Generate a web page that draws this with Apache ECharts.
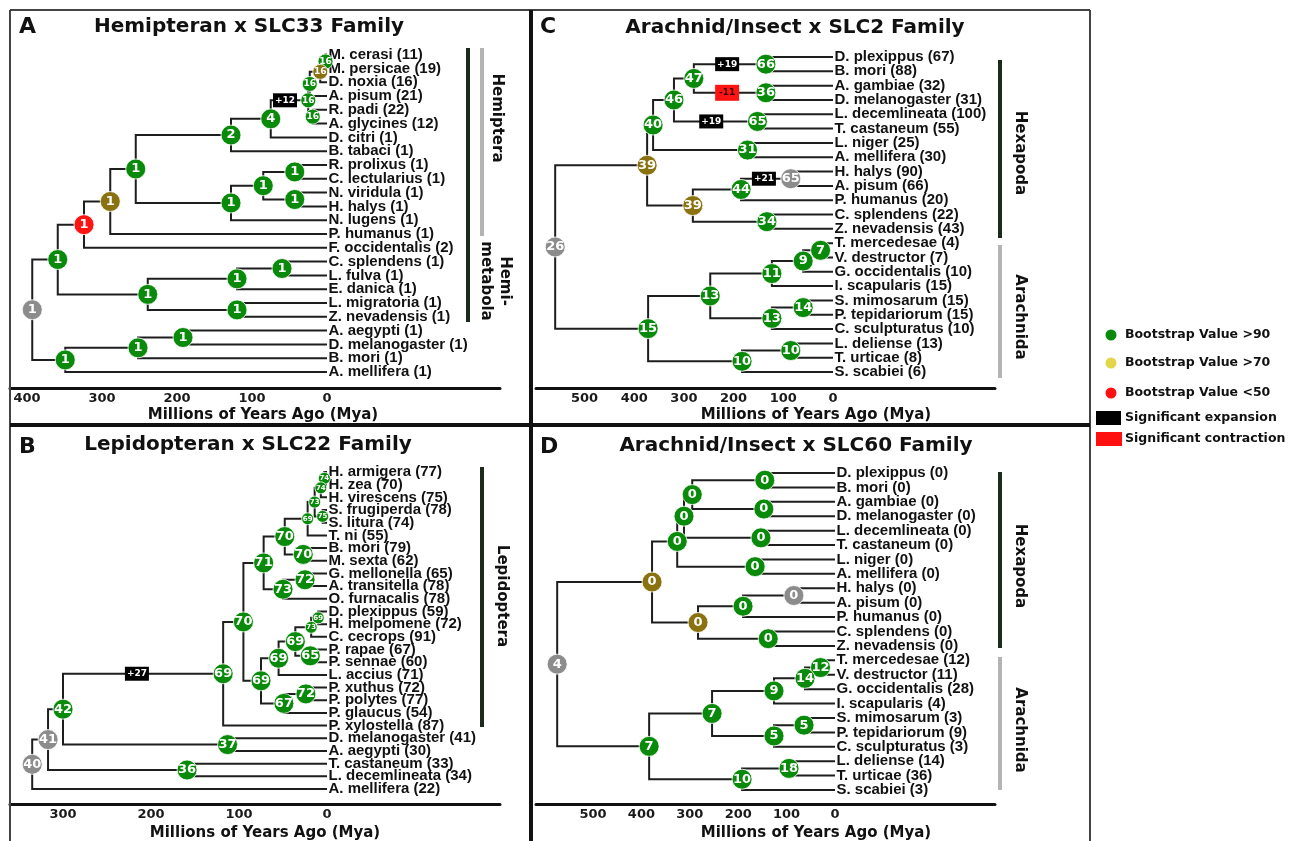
<!DOCTYPE html>
<html>
<head>
<meta charset="utf-8">
<title>Gene family expansion across insect trees</title>
<script src="https://cdn.jsdelivr.net/npm/echarts@6/dist/echarts.min.js"></script>
<style>
html, body { margin: 0; padding: 0; background: #fff; }
#chart { width: 1295px; height: 841px; }
</style>
</head>
<body>
<div id="chart"></div>
<script>
// ---------- data ----------
// node: [id, age (Mya), family size at node, bootstrap class, left child, right child]
// child = leaf index (number) or node id (string)
// bootstrap class: g >90, o >70, r <50, x not shown

const leavesA = ['M. cerasi', 'M. persicae', 'D. noxia', 'A. pisum', 'R. padi', 'A. glycines',
    'D. citri', 'B. tabaci', 'R. prolixus', 'C. lectularius', 'N. viridula', 'H. halys', 'N. lugens',
    'P. humanus', 'F. occidentalis', 'C. splendens', 'L. fulva', 'E. danica', 'L. migratoria',
    'Z. nevadensis', 'A. aegypti', 'D. melanogaster', 'B. mori', 'A. mellifera']
const countsA = [11, 19, 16, 21, 22, 12, 1, 1, 1, 1, 1, 1, 1, 1, 2, 1, 1, 1, 1, 1, 1, 1, 1, 1]
const nodesA = [
    ['a1', 2, 16, 'g', 0, 1],
    ['a2', 9, 16, 'o', 'a1', 2],
    ['a3', 23, 16, 'g', 'a2', 3],
    ['a4', 19, 16, 'g', 4, 5],
    ['a5', 25, 16, 'g', 'a3', 'a4'],
    ['a6', 75, 4, 'g', 'a5', 6],
    ['a7', 128, 2, 'g', 'a6', 7],
    ['a8', 43, 1, 'g', 8, 9],
    ['a9', 43, 1, 'g', 10, 11],
    ['a10', 85, 1, 'g', 'a8', 'a9'],
    ['a11', 128, 1, 'g', 'a10', 12],
    ['a12', 255, 1, 'g', 'a7', 'a11'],
    ['a13', 289, 1, 'o', 'a12', 13],
    ['a14', 324, 1, 'r', 'a13', 14],
    ['a15', 60, 1, 'g', 15, 16],
    ['a16', 120, 1, 'g', 'a15', 17],
    ['a17', 120, 1, 'g', 18, 19],
    ['a18', 239, 1, 'g', 'a16', 'a17'],
    ['a19', 359, 1, 'g', 'a14', 'a18'],
    ['a20', 192, 1, 'g', 20, 21],
    ['a21', 252, 1, 'g', 'a20', 22],
    ['a22', 349, 1, 'g', 'a21', 23],
    ['a23', 393, 1, 'x', 'a19', 'a22']
]
// [node the branch leads to, age of the box, change, e = expansion / c = contraction]
const boxesA = [['a5', 56, '+12', 'e']]

const leavesB = ['H. armigera', 'H. zea', 'H. virescens', 'S. frugiperda', 'S. litura', 'T. ni',
    'B. mori', 'M. sexta', 'G. mellonella', 'A. transitella', 'O. furnacalis', 'D. plexippus',
    'H. melpomene', 'C. cecrops', 'P. rapae', 'P. sennae', 'L. accius', 'P. xuthus', 'P. polytes',
    'P. glaucus', 'P. xylostella', 'D. melanogaster', 'A. aegypti', 'T. castaneum',
    'L. decemlineata', 'A. mellifera']
const countsB = [77, 70, 75, 78, 74, 55, 79, 62, 65, 78, 78, 59, 72, 91, 67, 60, 71, 72, 77, 54, 87, 41, 30, 33, 34, 22]
const nodesB = [
    ['b1', 3, 74, 'g', 0, 1],
    ['b2', 7, 74, 'g', 'b1', 2],
    ['b3', 5, 75, 'g', 3, 4],
    ['b4', 14, 73, 'g', 'b2', 'b3'],
    ['b5', 22, 69, 'g', 'b4', 5],
    ['b6', 27, 70, 'g', 6, 7],
    ['b7', 48, 70, 'g', 'b5', 'b6'],
    ['b8', 25, 72, 'g', 8, 9],
    ['b9', 50, 73, 'g', 'b8', 10],
    ['b10', 72, 71, 'g', 'b7', 'b9'],
    ['b11', 10, 69, 'g', 11, 12],
    ['b12', 18, 73, 'g', 'b11', 13],
    ['b13', 19, 65, 'g', 14, 15],
    ['b14', 36, 69, 'g', 'b12', 'b13'],
    ['b15', 55, 69, 'g', 'b14', 16],
    ['b16', 24, 72, 'g', 17, 18],
    ['b17', 49, 67, 'g', 'b16', 19],
    ['b18', 75, 69, 'g', 'b15', 'b17'],
    ['b19', 95, 70, 'g', 'b10', 'b18'],
    ['b20', 118, 69, 'g', 'b19', 20],
    ['b21', 113, 37, 'g', 21, 22],
    ['b22', 300, 42, 'g', 'b20', 'b21'],
    ['b23', 159, 36, 'g', 23, 24],
    ['b24', 317, 41, 'x', 'b22', 'b23'],
    ['b25', 335, 40, 'x', 'b24', 25]
]
const boxesB = [['b20', 216, '+27', 'e']]

const leavesCD = ['D. plexippus', 'B. mori', 'A. gambiae', 'D. melanogaster', 'L. decemlineata',
    'T. castaneum', 'L. niger', 'A. mellifera', 'H. halys', 'A. pisum', 'P. humanus', 'C. splendens',
    'Z. nevadensis', 'T. mercedesae', 'V. destructor', 'G. occidentalis', 'I. scapularis',
    'S. mimosarum', 'P. tepidariorum', 'C. sculpturatus', 'L. deliense', 'T. urticae', 'S. scabiei']
const countsC = [67, 88, 32, 31, 100, 55, 25, 30, 90, 66, 20, 22, 43, 4, 7, 10, 15, 15, 15, 10, 13, 8, 6]
const nodesC = [
    ['c1', 135, 66, 'g', 0, 1],
    ['c2', 135, 36, 'g', 2, 3],
    ['c3', 280, 47, 'g', 'c1', 'c2'],
    ['c4', 152, 65, 'g', 4, 5],
    ['c5', 320, 46, 'g', 'c3', 'c4'],
    ['c6', 172, 31, 'g', 6, 7],
    ['c7', 362, 40, 'g', 'c5', 'c6'],
    ['c8', 85, 65, 'x', 8, 9],
    ['c9', 185, 44, 'g', 'c8', 10],
    ['c10', 133, 34, 'g', 11, 12],
    ['c11', 282, 39, 'o', 'c9', 'c10'],
    ['c12', 374, 39, 'o', 'c7', 'c11'],
    ['c13', 25, 7, 'g', 13, 14],
    ['c14', 60, 9, 'g', 'c13', 15],
    ['c15', 123, 11, 'g', 'c14', 16],
    ['c16', 60, 14, 'g', 17, 18],
    ['c17', 123, 13, 'g', 'c16', 19],
    ['c18', 247, 13, 'g', 'c15', 'c17'],
    ['c19', 85, 10, 'g', 20, 21],
    ['c20', 183, 10, 'g', 'c19', 22],
    ['c21', 372, 15, 'g', 'c18', 'c20'],
    ['c22', 559, 26, 'x', 'c12', 'c21']
]
const boxesC = [['c1', 213, '+19', 'e'], ['c2', 213, '-11', 'c'], ['c4', 245, '+19', 'e'], ['c8', 139, '+21', 'e']]

const countsD = [0, 0, 0, 0, 0, 0, 0, 0, 0, 0, 0, 0, 0, 12, 11, 28, 4, 3, 9, 3, 14, 36, 3]
const nodesD = [
    ['d1', 145, 0, 'g', 0, 1],
    ['d2', 147, 0, 'g', 2, 3],
    ['d3', 295, 0, 'g', 'd1', 'd2'],
    ['d4', 153, 0, 'g', 4, 5],
    ['d5', 312, 0, 'g', 'd3', 'd4'],
    ['d6', 165, 0, 'g', 6, 7],
    ['d7', 326, 0, 'g', 'd5', 'd6'],
    ['d8', 85, 0, 'x', 8, 9],
    ['d9', 190, 0, 'g', 'd8', 10],
    ['d10', 138, 0, 'g', 11, 12],
    ['d11', 283, 0, 'o', 'd9', 'd10'],
    ['d12', 378, 0, 'o', 'd7', 'd11'],
    ['d13', 30, 12, 'g', 13, 14],
    ['d14', 62, 14, 'g', 'd13', 15],
    ['d15', 126, 9, 'g', 'd14', 16],
    ['d16', 64, 5, 'g', 17, 18],
    ['d17', 126, 5, 'g', 'd16', 19],
    ['d18', 254, 7, 'g', 'd15', 'd17'],
    ['d19', 95, 18, 'g', 20, 21],
    ['d20', 192, 10, 'g', 'd19', 22],
    ['d21', 384, 7, 'g', 'd18', 'd20'],
    ['d22', 574, 4, 'x', 'd12', 'd21']
]
const boxesD = []

const ticksA = [400, 300, 200, 100, 0]
const ticksB = [300, 200, 100, 0]
const ticksCD = [500, 400, 300, 200, 100, 0]

// ---------- layout / style ----------
const nodeColors = { g: '#0a8a0a', o: '#8a7210', r: '#ff1414', x: '#8c8c8c' }
const boxColors = { e: '#000000', c: '#ff1414' }
const boldSans = '"DejaVu Sans", sans-serif'

const panels = [
    { leaves: leavesA, counts: countsA, nodes: nodesA, boxes: boxesA, ticks: ticksA,
        small: ['a1', 'a2', 'a3', 'a4', 'a5'], smallSize: 15,
        left: 10, right: 500, zeroX: 327, pxPerMy: 0.75, top: 40, axisY: 388, rowY: 54.6, rowStep: 13.8 },
    { leaves: leavesB, counts: countsB, nodes: nodesB, boxes: boxesB, ticks: ticksB,
        small: ['b1', 'b2', 'b3', 'b4', 'b5', 'b11', 'b12'], smallSize: 12,
        left: 10, right: 500, zeroX: 327, pxPerMy: 0.88, top: 458, axisY: 804, rowY: 472, rowStep: 12.68 },
    { leaves: leavesCD, counts: countsC, nodes: nodesC, boxes: boxesC, ticks: ticksCD,
        small: [], smallSize: 12,
        left: 536, right: 995, zeroX: 833, pxPerMy: 0.497, top: 40, axisY: 388, rowY: 57, rowStep: 14.32 },
    { leaves: leavesCD, counts: countsD, nodes: nodesD, boxes: boxesD, ticks: ticksCD,
        small: [], smallSize: 12,
        left: 536, right: 995, zeroX: 835, pxPerMy: 0.484, top: 458, axisY: 804, rowY: 473, rowStep: 14.41 }
]

let grids = [], xAxes = [], yAxes = [], series = []

panels.forEach(function(p, idx) {
    let byId = {}
    p.nodes.forEach(n => { byId[n[0]] = n })
    let yOf = function(ref) {
        if (typeof ref === 'number') return ref
        let n = byId[ref]
        return (yOf(n[4]) + yOf(n[5])) / 2
    }
    let ageOf = ref => typeof ref === 'number' ? 0 : byId[ref][1]

    grids.push({
        left: p.left, top: p.top,
        width: p.right - p.left, height: p.axisY - p.top
    })
    xAxes.push({
        gridIndex: idx,
        type: 'value',
        inverse: true,
        min: (p.zeroX - p.right) / p.pxPerMy,
        max: (p.zeroX - p.left) / p.pxPerMy,
        axisLine: { show: true, onZero: false, lineStyle: { color: '#111', width: 3 } },
        axisTick: { show: false },
        splitLine: { show: false },
        axisLabel: {
            customValues: p.ticks,
            formatter: v => String(v),
            color: '#1a1a1a',
            fontFamily: boldSans,
            fontWeight: 'bold',
            fontSize: 13,
            margin: 4
        }
    })
    yAxes.push({
        gridIndex: idx,
        type: 'value',
        inverse: true,
        show: false,
        min: (p.top - p.rowY) / p.rowStep,
        max: (p.axisY - p.rowY) / p.rowStep
    })

    // branches: vertical at the parent age, then horizontal to the child
    let branches = []
    p.nodes.forEach(function(n) {
        let ny = yOf(n[0])
        ;[n[4], n[5]].forEach(function(c) {
            let cy = yOf(c)
            branches.push({ coords: [[n[1], ny], [n[1], cy], [ageOf(c), cy]] })
        })
    })
    series.push({
        type: 'lines',
        coordinateSystem: 'cartesian2d',
        xAxisIndex: idx,
        yAxisIndex: idx,
        polyline: true,
        silent: true,
        z: 2,
        lineStyle: { color: '#1e1e1e', width: 2, opacity: 1 },
        data: branches
    })

    // leaf names
    series.push({
        type: 'scatter',
        xAxisIndex: idx,
        yAxisIndex: idx,
        silent: true,
        z: 3,
        symbolSize: 1,
        itemStyle: { color: 'rgba(0,0,0,0)', opacity: 1 },
        label: {
            show: true,
            position: 'right',
            distance: 1,
            formatter: '{b}',
            color: '#111',
            opacity: 1,
            fontFamily: '"Liberation Sans", Arial, sans-serif',
            fontWeight: 'bold',
            fontSize: 15
        },
        data: p.leaves.map((name, i) => ({ name: name + ' (' + p.counts[i] + ')', value: [0, i] }))
    })

    // expansion / contraction boxes
    series.push({
        type: 'scatter',
        xAxisIndex: idx,
        yAxisIndex: idx,
        silent: true,
        z: 4,
        symbol: 'rect',
        data: p.boxes.map(b => ({
            value: [b[1], yOf(b[0]), b[2]],
            symbolSize: b[3] === 'c' ? [24, 16] : [24, 14],
            itemStyle: { color: boxColors[b[3]], opacity: 1 },
            label: { color: b[3] === 'c' ? '#3a0000' : '#fff' }
        })),
        itemStyle: { opacity: 1 },
        label: {
            show: true,
            position: 'inside',
            formatter: v => v.value[2],
            fontFamily: boldSans,
            fontWeight: 'bold',
            fontSize: 9
        }
    })

    // nodes
    series.push({
        type: 'scatter',
        xAxisIndex: idx,
        yAxisIndex: idx,
        silent: true,
        z: 5,
        data: p.nodes.map(function(n) {
            let small = p.small.indexOf(n[0]) >= 0
            return {
                value: [n[1], yOf(n[0]), n[2]],
                symbolSize: small ? p.smallSize : 20,
                itemStyle: { color: nodeColors[n[3]], opacity: 1 },
                label: { fontSize: small ? (p.smallSize > 13 ? 9 : 7) : 13 }
            }
        }),
        itemStyle: { borderColor: '#ffffff', borderWidth: 0.8, opacity: 1 },
        label: {
            show: true,
            position: 'inside',
            formatter: v => String(v.value[2]),
            color: '#fff',
            fontFamily: boldSans,
            fontWeight: 'bold'
        }
    })
})

// ---------- frame, titles, clade bars, legend ----------
let txt = function(x, y, text, size, opts) {
    opts = opts || {}
    return {
        type: 'text', x: x, y: y, rotation: opts.rotation || 0, z: 10,
        style: {
            text: text,
            font: 'bold ' + size + 'px "DejaVu Sans", sans-serif',
            fill: opts.fill || '#111',
            align: opts.align || 'center',
            textAlign: opts.align || 'center',
            verticalAlign: 'middle',
            textVerticalAlign: 'middle',
            lineHeight: opts.lineHeight || size * 1.2
        }
    }
}
let seg = function(x1, y1, x2, y2, color, w) {
    return { type: 'line', z: 9, shape: { x1: x1, y1: y1, x2: x2, y2: y2 }, style: { stroke: color, lineWidth: w } }
}
let down = -Math.PI / 2

let graphic = [
    seg(10, 10, 1090, 10, '#444', 2),
    seg(10, 10, 10, 841, '#444', 2),
    seg(1090, 10, 1090, 841, '#444', 2),
    seg(531, 10, 531, 841, '#111', 4),
    seg(10, 425, 1090, 425, '#111', 4),

    txt(19, 27, 'A', 22, { align: 'left' }),
    txt(249, 27, 'Hemipteran x SLC33 Family', 20),
    txt(540, 27, 'C', 22, { align: 'left' }),
    txt(795, 28, 'Arachnid/Insect x SLC2 Family', 20),
    txt(19, 447, 'B', 22, { align: 'left' }),
    txt(248, 445, 'Lepidopteran x SLC22 Family', 20),
    txt(540, 447, 'D', 22, { align: 'left' }),
    txt(796, 446, 'Arachnid/Insect x SLC60 Family', 20),

    txt(263, 415, 'Millions of Years Ago (Mya)', 15),
    txt(816, 415, 'Millions of Years Ago (Mya)', 15),
    txt(265, 833, 'Millions of Years Ago (Mya)', 15),
    txt(816, 833, 'Millions of Years Ago (Mya)', 15),

    seg(468, 48, 468, 322, '#1c2a1c', 4),
    seg(482, 48, 482, 236, '#b4b4b4', 4),
    txt(497, 118, 'Hemiptera', 15, { rotation: down }),
    txt(495, 281, 'Hemi-\nmetabola', 15, { rotation: down, lineHeight: 19 }),

    seg(482, 467, 482, 727, '#1c2a1c', 4),
    txt(502, 596, 'Lepidoptera', 15, { rotation: down }),

    seg(1000, 60, 1000, 238, '#1c2a1c', 4),
    seg(1000, 245, 1000, 378, '#b4b4b4', 4),
    txt(1020, 153, 'Hexapoda', 15, { rotation: down }),
    txt(1020, 317, 'Arachnida', 15, { rotation: down }),

    seg(1000, 472, 1000, 648, '#1c2a1c', 4),
    seg(1000, 657, 1000, 790, '#b4b4b4', 4),
    txt(1020, 566, 'Hexapoda', 15, { rotation: down }),
    txt(1020, 730, 'Arachnida', 15, { rotation: down }),

    { type: 'circle', z: 10, shape: { cx: 1111, cy: 335, r: 5.5 }, style: { fill: '#0a8a0a' } },
    { type: 'circle', z: 10, shape: { cx: 1111, cy: 363, r: 5.5 }, style: { fill: '#e3d54a' } },
    { type: 'circle', z: 10, shape: { cx: 1111, cy: 393, r: 5.5 }, style: { fill: '#ff1010' } },
    { type: 'rect', z: 10, shape: { x: 1096, y: 411, width: 25, height: 14 }, style: { fill: '#000' } },
    { type: 'rect', z: 10, shape: { x: 1096, y: 432, width: 26, height: 14 }, style: { fill: '#ff1010' } },
    txt(1125, 335, 'Bootstrap Value >90', 12.5, { align: 'left' }),
    txt(1125, 363, 'Bootstrap Value >70', 12.5, { align: 'left' }),
    txt(1125, 393, 'Bootstrap Value <50', 12.5, { align: 'left' }),
    txt(1125, 418, 'Significant expansion', 12.5, { align: 'left' }),
    txt(1125, 439, 'Significant contraction', 12.5, { align: 'left' })
]

let option = {
    animation: false,
    backgroundColor: '#fff',
    grid: grids,
    xAxis: xAxes,
    yAxis: yAxes,
    series: series,
    graphic: graphic
}

var myChart = echarts.init(document.getElementById('chart'))
myChart.setOption(option)
window.addEventListener('resize', function() {
    myChart.resize()
})
</script>
</body>
</html>
